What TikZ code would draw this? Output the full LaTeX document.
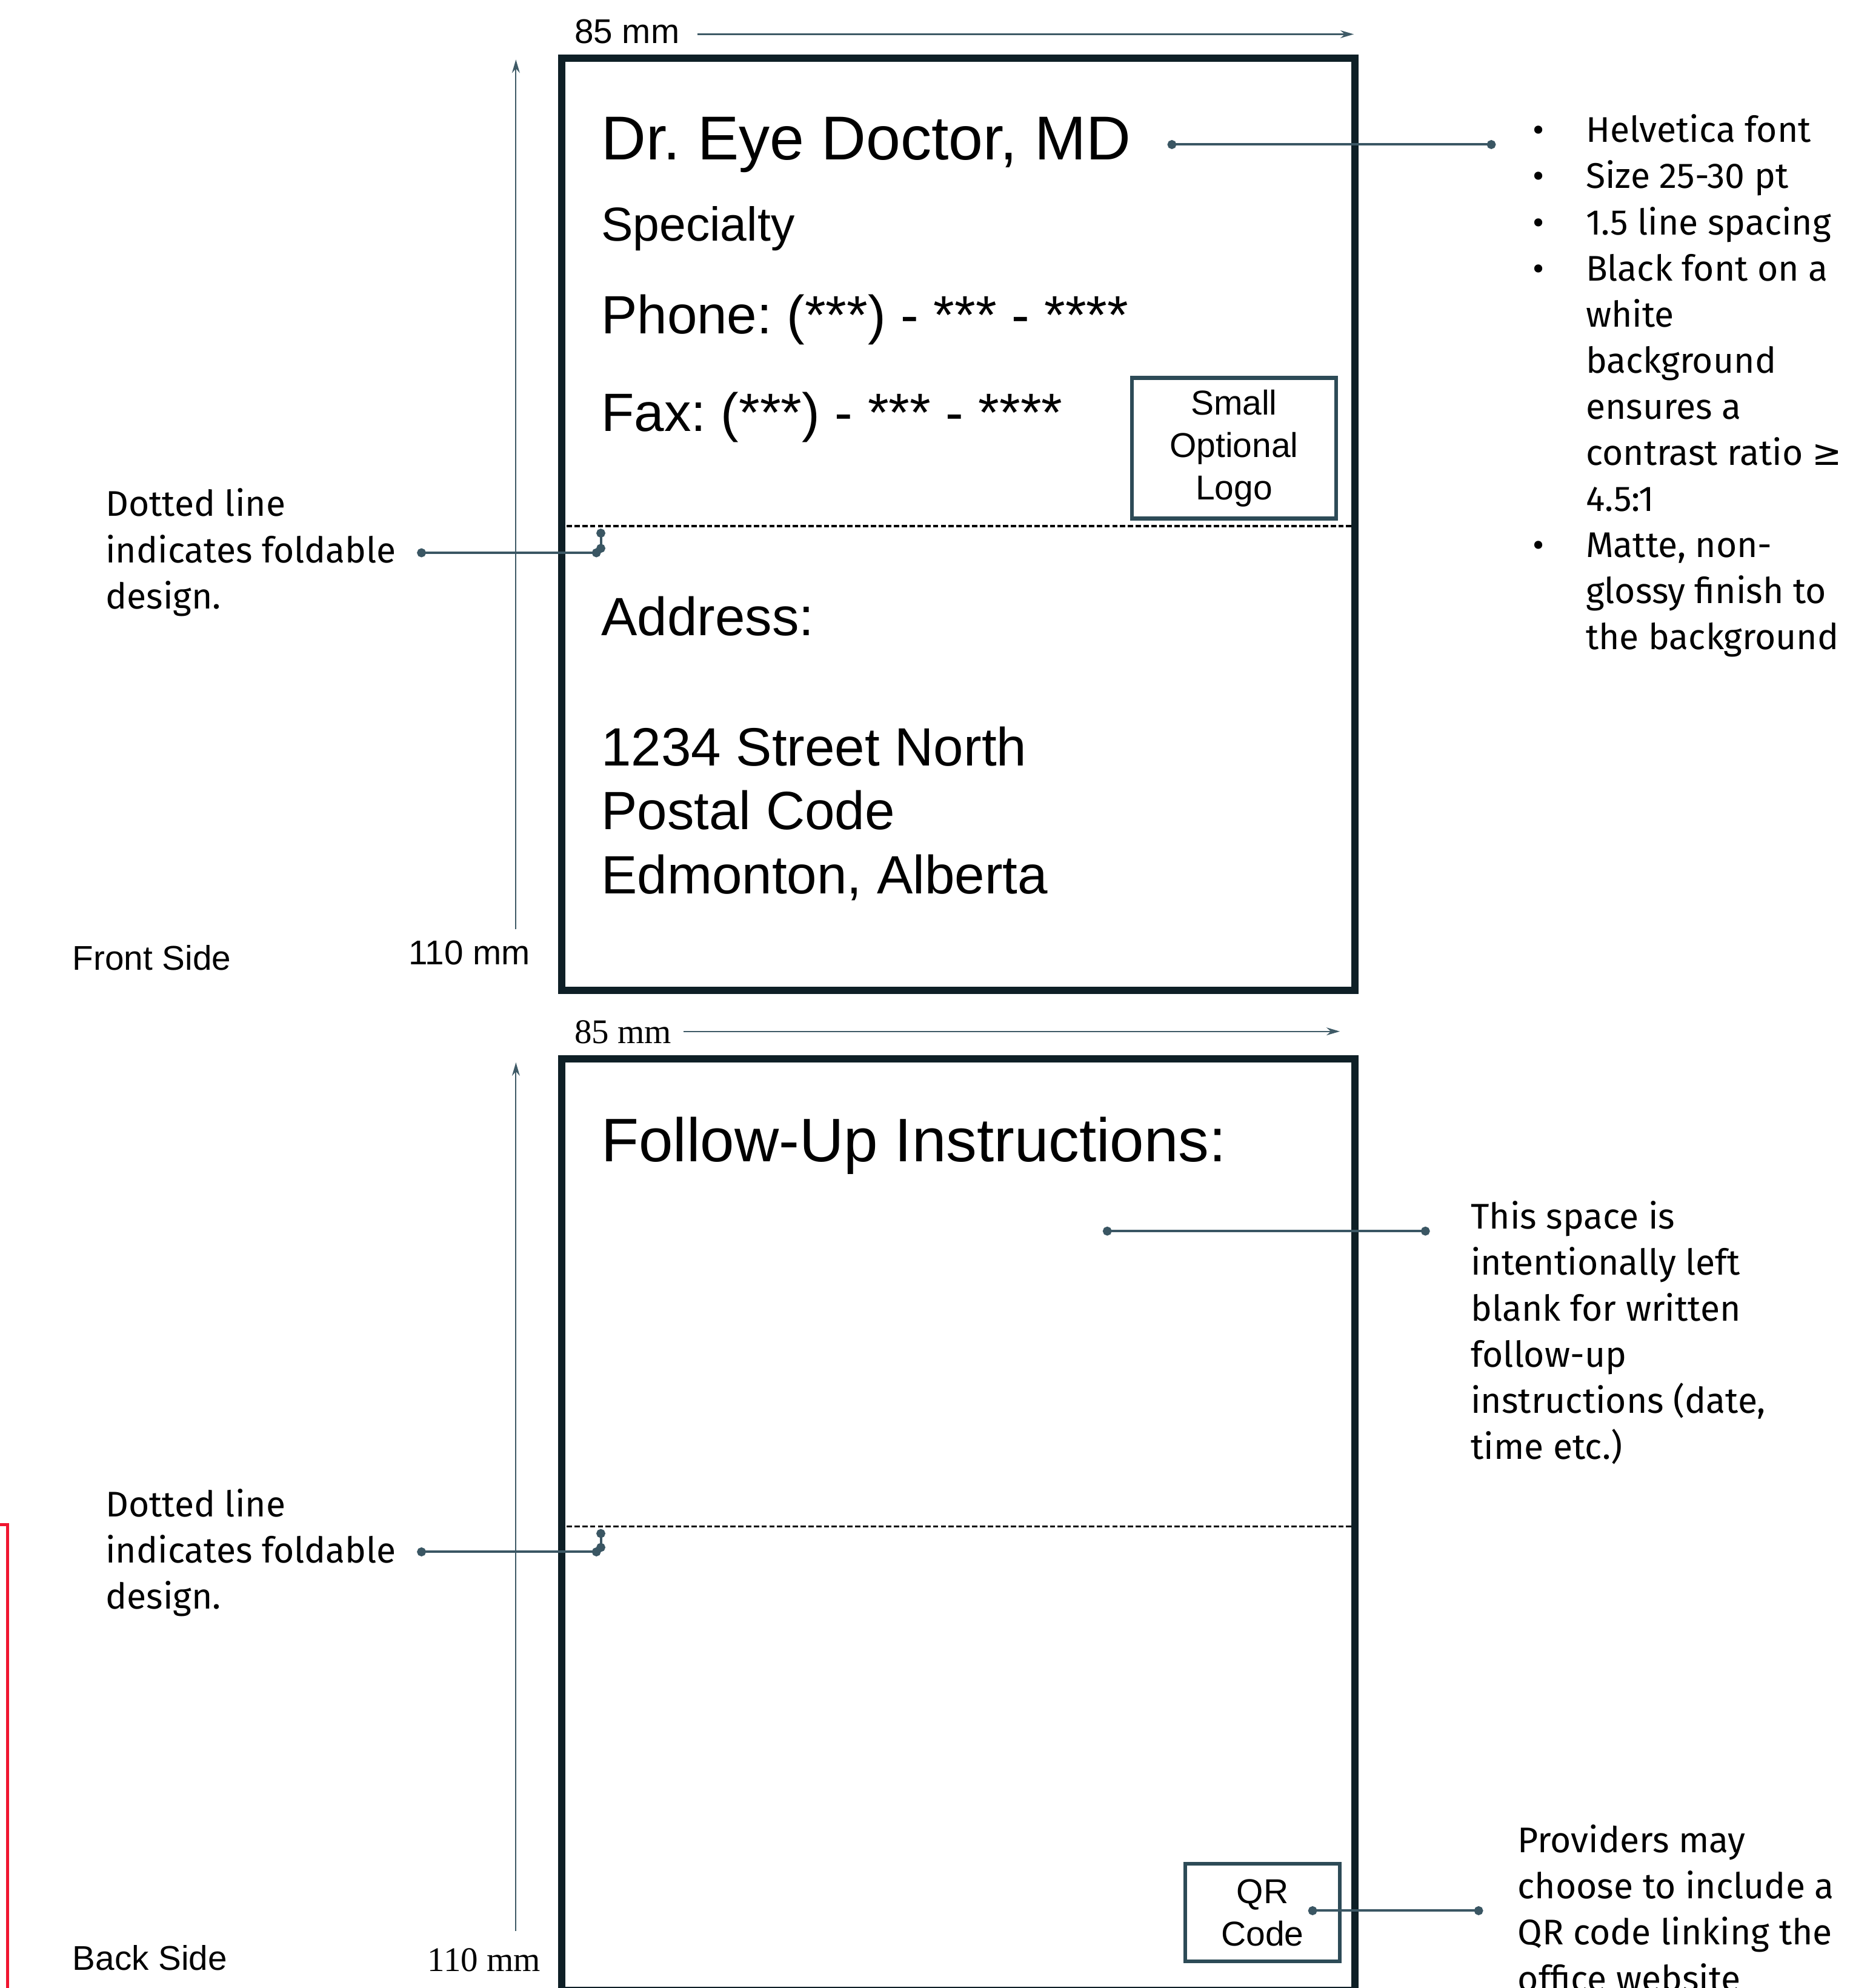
\documentclass[tikz,border=0pt]{standalone}
\usepackage{fontspec}
\setmainfont{Liberation Sans}
\newfontfamily\notefont{Fira Sans}
\newfontfamily\dimserif{Liberation Serif}
\newfontfamily\geqfont{DejaVu Sans}
\usetikzlibrary{arrows.meta}
\definecolor{cardline}{HTML}{0E1F26}
\definecolor{leadline}{HTML}{3A5663}
\definecolor{dimline}{HTML}{3E5A66}
\definecolor{boxline}{HTML}{2D4B57}
\definecolor{cropred}{HTML}{F01530}
\newcommand{\specbullet}{\makebox[23.8pt][l]{\textbullet}}
\newcommand{\specindent}{\hspace*{23.8pt}}
\frenchspacing

\begin{document}
\begin{tikzpicture}[
    x=0.02cm, y=-0.02cm,
    card/.style={draw=cardline, line width=3.2pt},
    fold/.style={line width=0.9pt, dash pattern=on 2.4pt off 1.1pt},
    dim/.style={draw=dimline, line width=0.6pt, -{Stealth[length=6pt, width=3.5pt]}},
    lead/.style={draw=leadline, line width=1.1pt, {Circle[length=4pt]}-{Circle[length=4pt]}},
    cardtext/.style={anchor=base west, inner sep=0pt, font=\fontsize{24.2}{29}\selectfont},
    dimlabel/.style={anchor=base west, inner sep=0pt, font=\fontsize{15.4}{18}\selectfont},
    note/.style={anchor=north west, inner sep=0pt, align=left, font=\notefont\fontsize{16}{20.7}\selectfont},
    extra/.style={draw=boxline, line width=1.7pt, align=center, inner sep=0pt, font=\fontsize{15.5}{19}\selectfont}
]
\useasboundingbox (0,0) rectangle (1475,1568);
\fill[white] (0,0) rectangle (1475,1568);

% Front side: card outline and fold
\draw[card] (443,46) rectangle (1069,781);
\draw[fold] (447,415) -- (1066,415);

\node[cardtext, font=\fontsize{27.8}{33}\selectfont] (docname) at (474,126) {Dr. Eye Doctor, MD};
\node[cardtext, font=\fontsize{21.4}{26}\selectfont] (specialty) at (474,190) {Specialty};
\node[cardtext] (phone) at (474,263) {Phone: (***) - *** - ****};
\node[cardtext] (fax) at (474,340) {Fax: (***) - *** - ****};
\node[cardtext] (address) at (474,501) {Address:};
\node[cardtext] (street) at (474,604) {1234 Street North};
\node[cardtext] (postal) at (474,654) {Postal Code};
\node[cardtext] (city) at (474,705) {Edmonton, Alberta};
\node[extra, minimum width=3.22cm, minimum height=2.22cm] (logo) at (973.5,353.5) {Small\\Optional\\Logo};

% Front side: dimensions
\node[dimlabel] (widthA) at (453,34) {85 mm};
\coordinate (widthAstart) at (550,27);
\coordinate (widthAend) at (1068,27);
\draw[dim] (widthAstart) -- (widthAend);
\node[dimlabel] (heightA) at (322,761) {110 mm};
\coordinate (heightAfoot) at (407,733);
\coordinate (heightAtop) at (407,47);
\draw[dim] (heightAfoot) -- (heightAtop);
\node[dimlabel] (sideA) at (57,765) {Front Side};

% Front side: notes
\node[note] (foldnoteA) at (83,385) {Dotted line\\indicates foldable\\design.};
\coordinate (foldtailA) at (329,436);
\coordinate (foldkneeA) at (474,436);
\coordinate (foldtipA) at (474,417);
\draw[lead] (foldtailA) -- (foldkneeA);
\draw[lead] (foldkneeA) -- (foldtipA);

\node[note] (specs) at (1209,90) {\specbullet Helvetica font\\
    \specbullet Size 25-30 pt\\
    \specbullet 1.5 line spacing\\
    \specbullet Black font on a\\
    \specindent white\\
    \specindent background\\
    \specindent ensures a\\
    \specindent contrast ratio {\geqfont ≥}\\
    \specindent 4.5:1\\
    \specbullet Matte, non-\\
    \specindent glossy finish to\\
    \specindent the background};
\coordinate (docdot) at (921,114);
\coordinate (specdot) at (1180,114);
\draw[lead] (docdot) -- (specdot);

% Back side: card outline and fold
\draw[card] (443,835) rectangle (1069,1570);
\draw[fold] (447,1204) -- (1066,1204);

\node[cardtext, font=\fontsize{27.6}{33}\selectfont] (followup) at (474,916) {Follow-Up Instructions:};
\node[extra, minimum width=2.44cm, minimum height=1.54cm] (qr) at (996,1508.5) {QR\\Code};

% Back side: dimensions
\node[dimlabel, font=\dimserif\fontsize{15.5}{18}\selectfont] (widthB) at (453,823) {85 mm};
\coordinate (widthBstart) at (539,813.5);
\coordinate (widthBend) at (1057,813.5);
\draw[dim] (widthBstart) -- (widthBend);
\node[dimlabel, font=\dimserif\fontsize{15.5}{18}\selectfont] (heightB) at (337,1555) {110 mm};
\coordinate (heightBfoot) at (407,1523);
\coordinate (heightBtop) at (407,838);
\draw[dim] (heightBfoot) -- (heightBtop);
\node[dimlabel] (sideB) at (57,1554) {Back Side};

% Back side: notes
\node[note] (foldnoteB) at (83,1174) {Dotted line\\indicates foldable\\design.};
\coordinate (foldtailB) at (329,1224);
\coordinate (foldkneeB) at (474,1224);
\coordinate (foldtipB) at (474,1206);
\draw[lead] (foldtailB) -- (foldkneeB);
\draw[lead] (foldkneeB) -- (foldtipB);

\node[note] (blanknote) at (1160,947) {This space is\\intentionally left\\blank for written\\follow-up\\instructions (date,\\time etc.)};
\coordinate (blankdot) at (870,971);
\coordinate (blankend) at (1128,971);
\draw[lead] (blankdot) -- (blankend);

\node[note] (qrnote) at (1197,1439) {Providers may\\choose to include a\\QR code linking the\\office website};
\coordinate (qrdot) at (1032,1507);
\coordinate (qrend) at (1170,1507);
\draw[lead] (qrdot) -- (qrend);

% crop mark at the left edge
\draw[cropred, line width=1.3pt] (0,1202.5) -- (6,1202.5) -- (6,1580);
\end{tikzpicture}
\end{document}
